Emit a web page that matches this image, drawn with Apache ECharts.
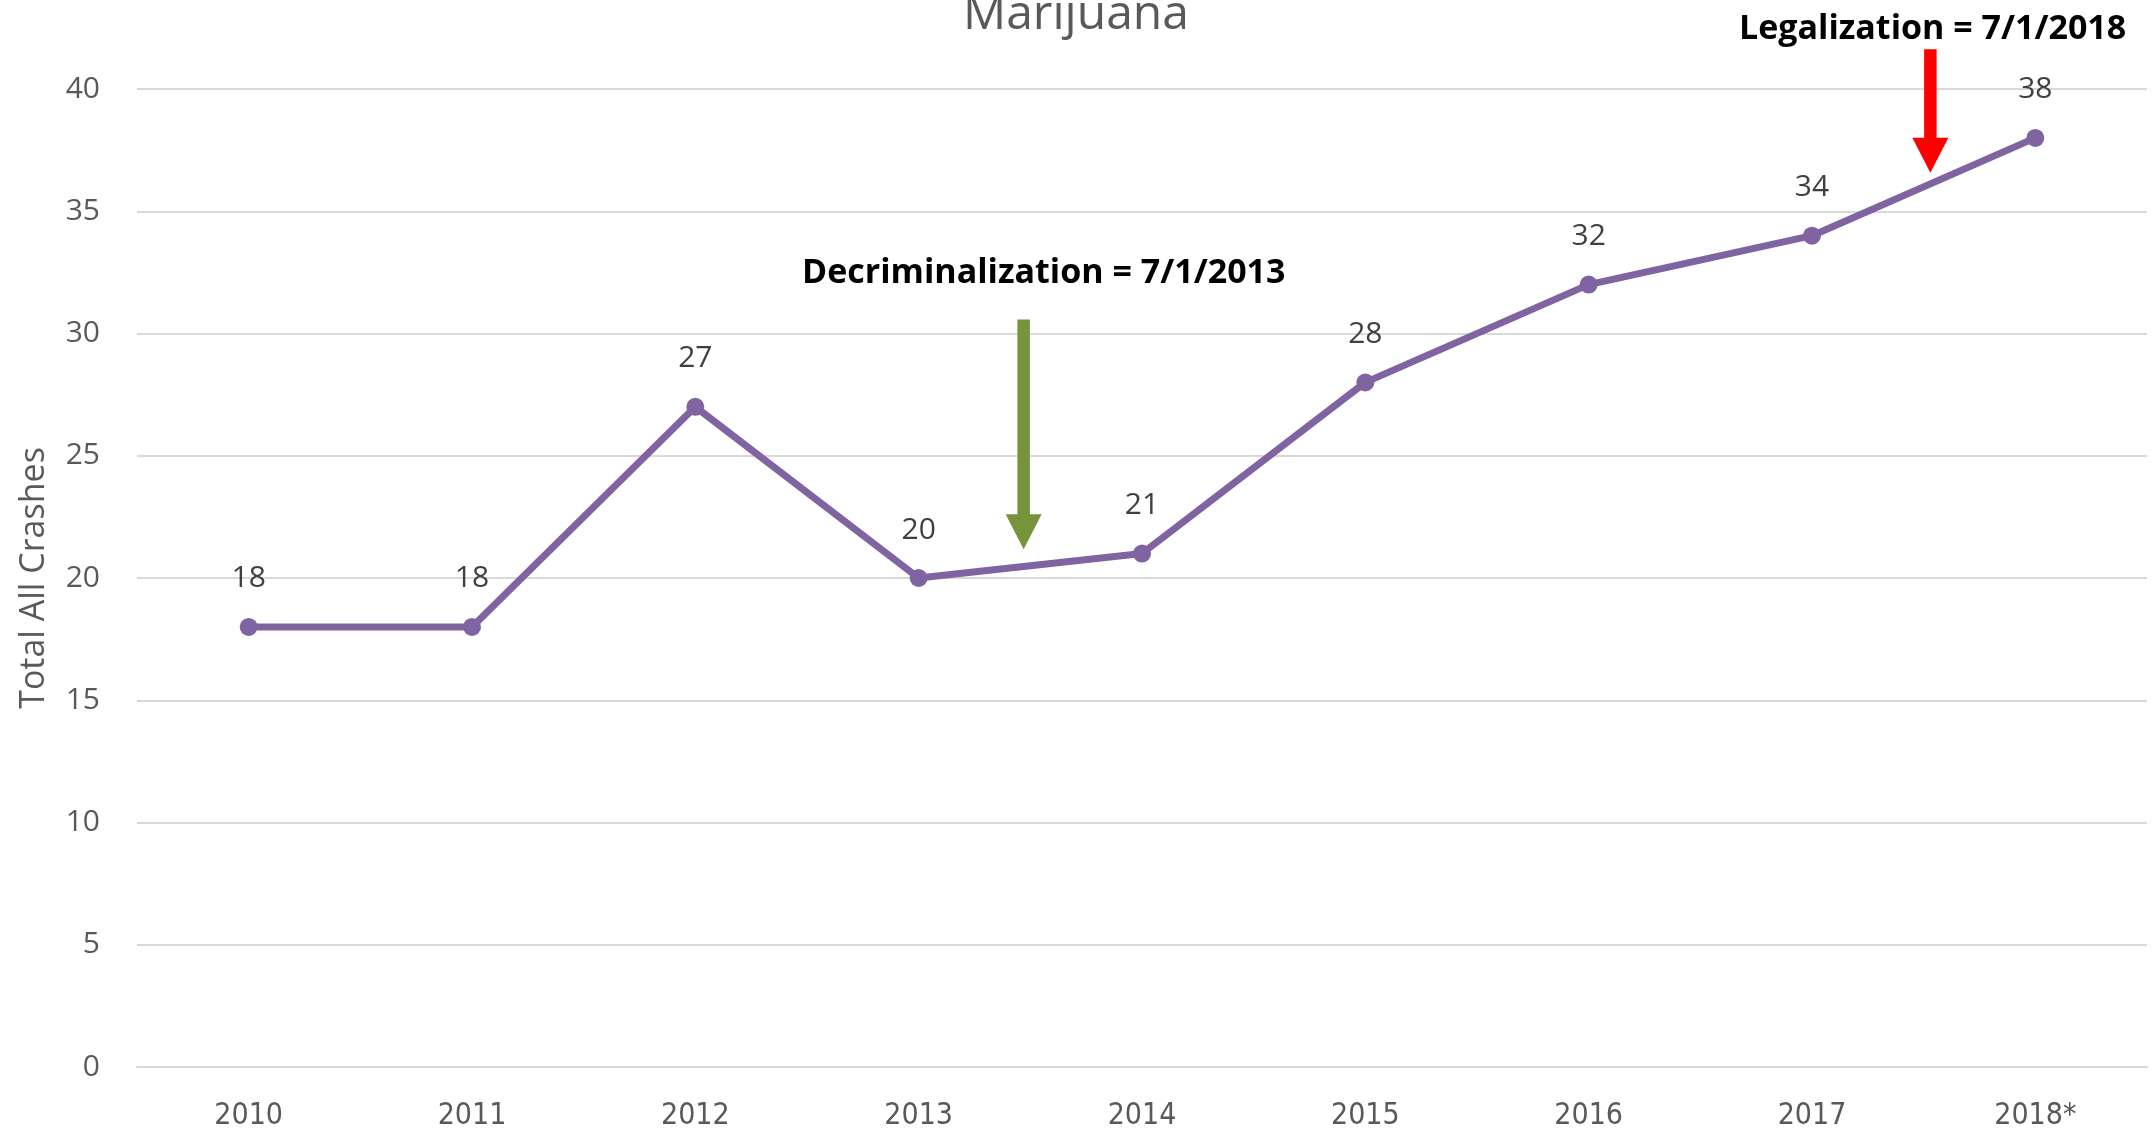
<!DOCTYPE html>
<html>
<head>
<meta charset="utf-8">
<title>Marijuana</title>
<script src="https://cdn.jsdelivr.net/npm/echarts@6/dist/echarts.min.js"></script>
<style>
  html, body { margin: 0; padding: 0; background: #ffffff; }
  #chart { width: 2156px; height: 1131px; }
</style>
</head>
<body>
<div id="chart"></div>
<script>
// Yearly totals of crashes involving marijuana
const years = ['2010', '2011', '2012', '2013', '2014', '2015', '2016', '2017', '2018*'];
const totalCrashes = [18, 18, 27, 20, 21, 28, 32, 34, 38];
const yTicks = { min: 0, max: 40, interval: 5 };

// Policy annotations: arrow position in category units, arrow top / tip values, text anchor
const annotText = ['Decriminalization = 7/1/2013', 'Legalization = 7/1/2018'];
const annotColor = ['#77933C', '#FF0000'];
const arrowX = [3.47, 7.53];
const arrowTop = [30.57, 41.63];
const arrowTip = [21.18, 36.57];
const textX = [3.56, 7.54];
const textY = [32.45, 42.45];

const annotData = arrowX.map((x, i) => [x, arrowTop[i], arrowTip[i], textX[i], textY[i]]);

const chart = echarts.init(document.getElementById('chart'));

const font = '"Open Sans", "Noto Sans", sans-serif';

chart.setOption({
  animation: false,
  backgroundColor: '#ffffff',
  title: {
    text: 'Marijuana',
    left: 958,
    top: -14,
    textStyle: { fontFamily: font, fontSize: 48, fontWeight: 'normal', color: '#595959' }
  },
  grid: { left: 137, right: 9, top: 89, bottom: 62 },
  xAxis: [
    {
      type: 'category',
      data: years,
      boundaryGap: true,
      axisLine: { show: true, lineStyle: { color: '#D9D9D9', width: 2 } },
      axisTick: { show: false },
      axisLabel: {
        margin: 34,
        color: '#595959',
        fontSize: 30,
        fontFamily: '"Liberation Sans Narrow", "DejaVu Sans Condensed", "Roboto", sans-serif'
      },
      splitLine: { show: false }
    },
    {
      // hidden linear axis aligned with category centres, used for annotations
      type: 'value',
      min: -0.5,
      max: 8.5,
      show: false
    }
  ],
  yAxis: {
    type: 'value',
    min: yTicks.min,
    max: yTicks.max,
    interval: yTicks.interval,
    name: 'Total All Crashes',
    nameLocation: 'middle',
    nameGap: 86,
    nameTextStyle: { fontFamily: font, fontSize: 34, color: '#595959' },
    axisLine: { show: false },
    axisTick: { show: false },
    axisLabel: { margin: 37, color: '#595959', fontSize: 30, fontFamily: font },
    splitLine: { show: true, lineStyle: { color: '#D9D9D9', width: 2 } }
  },
  series: [
    {
      type: 'line',
      data: totalCrashes,
      xAxisIndex: 0,
      symbol: 'circle',
      symbolSize: 18,
      lineStyle: { color: '#8064A2', width: 7 },
      itemStyle: { color: '#8064A2' },
      label: {
        show: true,
        position: 'top',
        distance: 24,
        color: '#404040',
        fontSize: 30,
        fontFamily: font
      },
      z: 3
    },
    {
      type: 'custom',
      xAxisIndex: 1,
      yAxisIndex: 0,
      clip: false,
      silent: true,
      data: annotData,
      renderItem: function (params, api) {
        const i = params.dataIndex;
        const top = api.coord([api.value(0), api.value(1)]);
        const tip = api.coord([api.value(0), api.value(2)]);
        const txt = api.coord([api.value(3), api.value(4)]);
        const headLen = 35, headW = 36, shaftW = 12.5;
        const color = annotColor[i];
        return {
          type: 'group',
          children: [
            {
              type: 'rect',
              shape: { x: top[0] - shaftW / 2, y: top[1], width: shaftW, height: tip[1] - headLen - top[1] + 1 },
              style: { fill: color }
            },
            {
              type: 'polygon',
              shape: { points: [[tip[0] - headW / 2, tip[1] - headLen], [tip[0] + headW / 2, tip[1] - headLen], [tip[0], tip[1]]] },
              style: { fill: color }
            },
            {
              type: 'text',
              x: txt[0],
              y: txt[1],
              style: {
                text: annotText[i],
                fill: '#000000',
                font: 'bold 34px "Open Sans", "Noto Sans", sans-serif',
                align: 'center',
                verticalAlign: 'middle'
              }
            }
          ]
        };
      },
      z: 2
    }
  ]
});
</script>
</body>
</html>
